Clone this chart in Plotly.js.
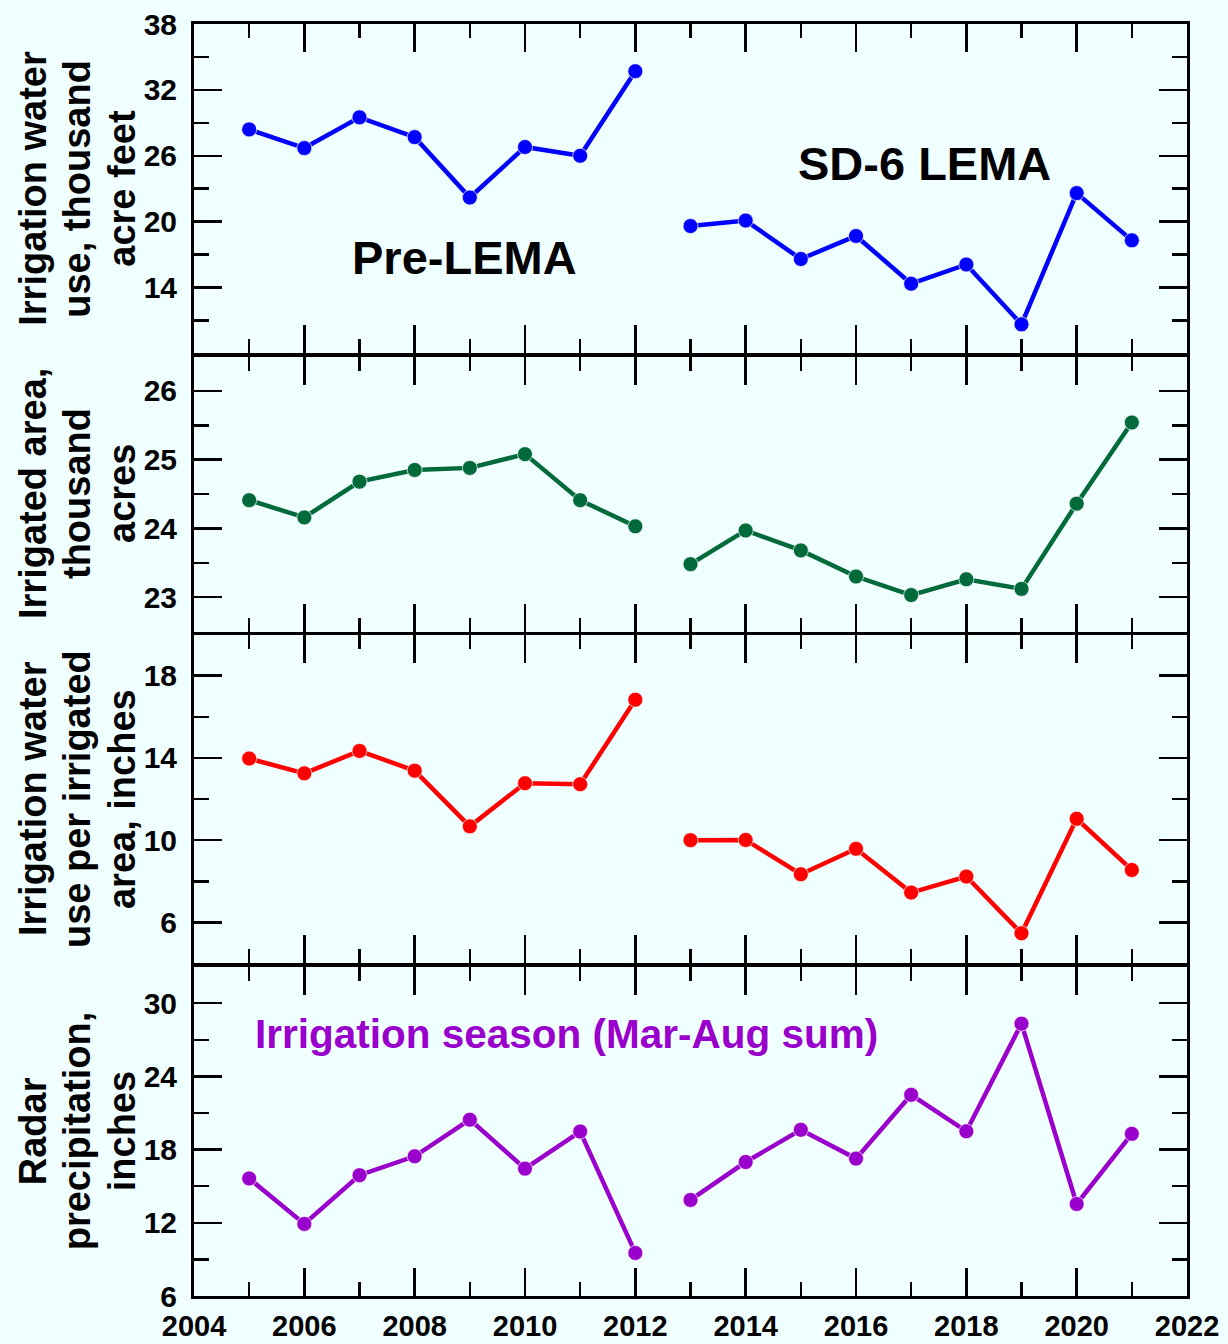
<!DOCTYPE html>
<html>
<head>
<meta charset="utf-8">
<script src="https://cdn.plot.ly/plotly-3.0.1.min.js"></script>
<style>
  html, body { margin: 0; padding: 0; background: #f0ffff; }
  #chart { width: 1228px; height: 1344px; }
</style>
</head>
<body>
<div id="chart"></div>
<script>
// ---- Data ----
const years = [2005, 2006, 2007, 2008, 2009, 2010, 2011, 2012,
               2013, 2014, 2015, 2016, 2017, 2018, 2019, 2020, 2021];
const lemaStartIndex = 8; // 2013 begins the SD-6 LEMA period

const waterUse = [28.4, 26.7, 29.5, 27.7, 22.2, 26.8, 26.0, 33.7,
                  19.6, 20.1, 16.6, 18.7, 14.35, 16.1, 10.65, 22.6, 18.3];
const irrigatedArea = [24.41, 24.16, 24.68, 24.85, 24.88, 25.08, 24.41, 24.03,
                       23.48, 23.97, 23.68, 23.30, 23.03, 23.26, 23.12, 24.36, 25.54];
const waterPerArea = [13.97, 13.25, 14.34, 13.38, 10.67, 12.77, 12.72, 16.83,
                      10.0, 10.01, 8.34, 9.58, 7.45, 8.23, 5.47, 11.04, 8.55];
const precipitation = [15.63, 11.91, 15.9, 17.45, 20.45, 16.44, 19.48, 9.53,
                       13.87, 16.98, 19.62, 17.26, 22.49, 19.5, 28.32, 13.54, 19.29];

const xTickVals = [2004, 2006, 2008, 2010, 2012, 2014, 2016, 2018, 2020, 2022];
const xMinorVals = [2005, 2007, 2009, 2011, 2013, 2015, 2017, 2019, 2021];

const panels = [
  { values: waterUse, color: '#0000ff',
    title: ['Irrigation water', 'use, thousand', 'acre feet'],
    range: [8, 38], ticks: [14, 20, 26, 32, 38], minor: [11, 17, 23, 29, 35] },
  { values: irrigatedArea, color: '#006a3a',
    title: ['Irrigated area,', 'thousand', 'acres'],
    range: [22.5, 26.5], ticks: [23, 24, 25, 26], minor: [23.5, 24.5, 25.5] },
  { values: waterPerArea, color: '#ff0000',
    title: ['Irrigation water', 'use per irrigated', 'area, inches'],
    range: [4, 20], ticks: [6, 10, 14, 18], minor: [8, 12, 16] },
  { values: precipitation, color: '#9900cc',
    title: ['Radar', 'precipitation,', 'inches'],
    range: [6, 33], ticks: [6, 12, 18, 24, 30], minor: [9, 15, 21, 27] }
];

// panel vertical domains (top to bottom); small gaps so shared frame lines coincide
const domains = [[0.7410, 1.0], [0.5224, 0.7386], [0.2614, 0.5200], [0.0, 0.2590]];

const FONT = 'Liberation Sans, Arial, Helvetica, sans-serif';
const ML = 194, PW = 993;
const titleLineX = [33, 77, 122];

const traces = [];
const layout = {
  width: 1228, height: 1344,
  paper_bgcolor: '#f0ffff', plot_bgcolor: '#f0ffff',
  margin: { l: ML, r: 1228 - ML - PW, t: 24, b: 48 },
  showlegend: false,
  font: { family: FONT, color: '#000' },
  annotations: []
};

panels.forEach((p, i) => {
  const n = i + 1;
  const xa = n === 1 ? 'x' : 'x' + n;
  const ya = n === 1 ? 'y' : 'y' + n;
  const segs = [[0, lemaStartIndex], [lemaStartIndex, years.length]];
  segs.forEach(([a, b]) => {
    traces.push({
      type: 'scatter', mode: 'lines+markers',
      x: years.slice(a, b), y: p.values.slice(a, b),
      xaxis: xa, yaxis: ya,
      line: { color: p.color, width: 4.5 },
      marker: { color: p.color, size: 15, line: { color: 'rgba(255,255,255,0.7)', width: 1 } },
      hoverinfo: 'x+y'
    });
  });

  const xKey = n === 1 ? 'xaxis' : 'xaxis' + n;
  const yKey = n === 1 ? 'yaxis' : 'yaxis' + n;
  layout[xKey] = {
    domain: [0, 1], anchor: ya, range: [2004, 2022],
    tickmode: 'array', tickvals: xTickVals, ticktext: xTickVals.map(String),
    ticks: 'inside', ticklen: 28, tickwidth: 2.5, tickcolor: '#000',
    minor: { tickmode: 'array', tickvals: xMinorVals, ticks: 'inside', ticklen: 14, tickwidth: 2.5, tickcolor: '#000', showgrid: false },
    showline: true, linewidth: 3, linecolor: '#000', mirror: 'ticks',
    showgrid: false, zeroline: false,
    showticklabels: n === 4,
    tickfont: { family: FONT, size: 29, weight: 'bold', color: '#000' },
    ticklabelstandoff: 2
  };
  if (n !== 1) layout[xKey].matches = 'x';
  layout[yKey] = {
    domain: domains[i], anchor: xa, range: p.range,
    tickmode: 'array', tickvals: p.ticks, ticktext: p.ticks.map(String),
    ticks: 'inside', ticklen: 28, tickwidth: 2.5, tickcolor: '#000',
    minor: { tickmode: 'array', tickvals: p.minor, ticks: 'inside', ticklen: 15, tickwidth: 2.5, tickcolor: '#000', showgrid: false },
    showline: true, linewidth: 3, linecolor: '#000', mirror: 'ticks',
    showgrid: false, zeroline: false,
    tickfont: { family: FONT, size: 30, weight: 'bold', color: '#000' },
    ticklabelstandoff: 8
  };
  p.title.forEach((line, k) => {
    layout.annotations.push({
      xref: 'paper', yref: 'paper',
      x: (titleLineX[k] - ML) / PW, y: (domains[i][0] + domains[i][1]) / 2,
      xanchor: 'center', yanchor: 'middle', textangle: -90,
      text: '<b>' + line + '</b>', showarrow: false,
      font: { family: FONT, size: 38, color: '#000' }
    });
  });
});

// in-plot labels
layout.annotations.push({
  xref: 'x', yref: 'y', x: 2008.9, y: 16.7,
  text: '<b>Pre-LEMA</b>', showarrow: false, xanchor: 'center', yanchor: 'middle',
  font: { family: FONT, size: 47, color: '#000' }
});
layout.annotations.push({
  xref: 'x', yref: 'y', x: 2017.25, y: 25.3,
  text: '<b>SD-6 LEMA</b>', showarrow: false, xanchor: 'center', yanchor: 'middle',
  font: { family: FONT, size: 47, color: '#000' }
});
layout.annotations.push({
  xref: 'x4', yref: 'y4', x: 2010.75, y: 27.5,
  text: '<b>Irrigation season (Mar-Aug sum)</b>', showarrow: false, xanchor: 'center', yanchor: 'middle',
  font: { family: FONT, size: 40.5, color: '#9900cc' }
});

Plotly.newPlot('chart', traces, layout, { staticPlot: true, displayModeBar: false });
</script>
</body>
</html>
